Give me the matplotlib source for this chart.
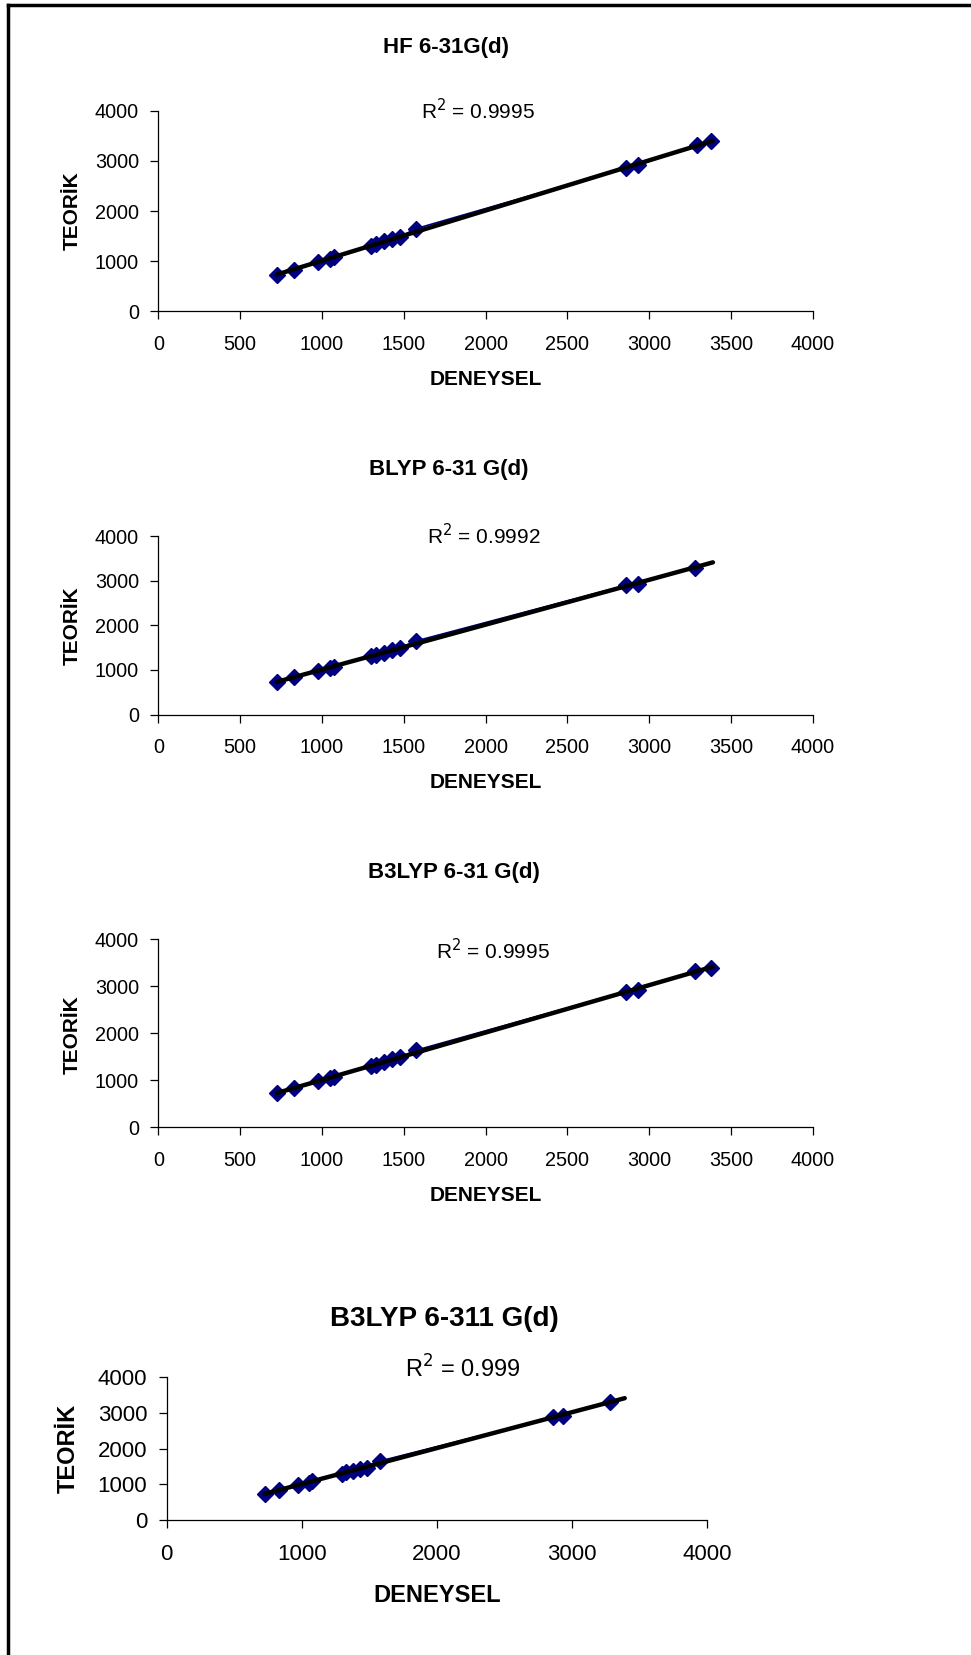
'''
Deneysel vs teorik frekans karsilastirmasi (4 yontem)
'''
import numpy as np
import matplotlib.pyplot as plt
from matplotlib.lines import Line2D

plt.rcParams['font.family'] = ['Liberation Sans', 'DejaVu Sans']

# deneysel frekanslar (x) ve teorik frekanslar (y), okunan degerler
x_hf = [725, 830, 975, 1050, 1075, 1300, 1330, 1380, 1430, 1480, 1575, 2860, 2930, 3290, 3380]
y_hf = [720, 830, 985, 1040, 1090, 1300, 1340, 1400, 1450, 1490, 1650, 2860, 2910, 3320, 3390]

x_blyp = [725, 830, 975, 1050, 1075, 1300, 1330, 1380, 1430, 1480, 1575, 2860, 2930, 3280]
y_blyp = [730, 840, 985, 1040, 1070, 1310, 1330, 1380, 1450, 1500, 1650, 2900, 2930, 3290]

x_b3 = [725, 830, 975, 1050, 1075, 1300, 1330, 1380, 1430, 1480, 1575, 2860, 2930, 3280, 3380]
y_b3 = [725, 835, 985, 1040, 1075, 1300, 1330, 1390, 1450, 1490, 1640, 2890, 2930, 3320, 3400]

x_b3311 = [725, 830, 975, 1050, 1075, 1300, 1330, 1380, 1430, 1480, 1575, 2860, 2930, 3280]
y_b3311 = [740, 830, 980, 1040, 1090, 1300, 1350, 1380, 1440, 1470, 1650, 2880, 2930, 3320]

titles = ["HF 6-31G(d)", "BLYP 6-31 G(d)", "B3LYP 6-31 G(d)", "B3LYP 6-311 G(d)"]
r2_labels = ["0.9995", "0.9992", "0.9995", "0.999"]
trend_end = [3390, 3390, 3390, 3390]
x_ticks_small = [0, 500, 1000, 1500, 2000, 2500, 3000, 3500, 4000]
x_ticks_big = [0, 1000, 2000, 3000, 4000]
y_ticks = [0, 1000, 2000, 3000, 4000]

W, H = 920.0, 1568.0  # layout measured on the shrunk reference

fig = plt.figure(figsize=(9.71, 16.55), dpi=100)

# (left, right, y_top, y_bottom, title xy, r2 xy, xlabel xy, ylabel xy, big?)
layout = [
    (150, 770, 105, 295, (423, 45), (453, 105), (460, 360), (68, 200), False),
    (150, 770, 508, 677, (425, 445), (458, 507), (460, 741), (68, 593), False),
    (150, 770, 890, 1068, (430, 827), (467, 901), (460, 1133), (68, 980), False),
    (158, 670, 1305, 1440, (421, 1250), (438, 1297), (414, 1512), (65, 1372), True),
]
data = [(x_hf, y_hf), (x_blyp, y_blyp), (x_b3, y_b3), (x_b3311, y_b3311)]

for i, (l, r, t, b, tpos, rpos, xlpos, ylpos, big) in enumerate(layout):
    xs, ys = data[i]
    ax = fig.add_axes([l / W, 1 - b / H, (r - l) / W, (b - t) / H])
    ax.plot(xs, ys, color='#000080', lw=1.2, marker='D', markersize=8.5,
            markerfacecolor='#000080', markeredgecolor='#000080', zorder=2)
    k, c = np.polyfit(xs, ys, 1)
    tx = np.array([min(xs), trend_end[i]])
    ax.plot(tx, k * tx + c, color='black', lw=3.2, solid_capstyle='round', zorder=3)

    ax.set_xlim(0, 4000)
    ax.set_ylim(0, 4000)
    ax.set_xticks(x_ticks_big if big else x_ticks_small)
    ax.set_yticks(y_ticks)
    for s in ['top', 'right']:
        ax.spines[s].set_visible(False)
    for s in ['left', 'bottom']:
        ax.spines[s].set_linewidth(0.9)
    fs = 16 if big else 14.3
    lfs = 17 if big else 15
    ax.tick_params(axis='x', direction='out', length=6, width=0.9, pad=11, labelsize=fs)
    ax.tick_params(axis='y', direction='out', length=6, width=0.9, pad=8, labelsize=fs)
    ax.set_xlabel("DENEYSEL", fontsize=lfs, fontweight='bold')
    ax.xaxis.set_label_coords(xlpos[0] / W, 1 - xlpos[1] / H, transform=fig.transFigure)
    ax.set_ylabel("TEORİK", fontsize=lfs, fontweight='bold')
    ax.yaxis.set_label_coords(ylpos[0] / W, 1 - ylpos[1] / H, transform=fig.transFigure)
    ax.xaxis.label.set_va('center')
    ax.yaxis.label.set_va('center')

    fig.text(tpos[0] / W, 1 - tpos[1] / H, titles[i], ha='center', va='center',
             fontsize=20 if big else 16, fontweight='bold')
    fig.text(rpos[0] / W, 1 - rpos[1] / H, "R$^2$ = " + r2_labels[i], ha='center',
             va='center', fontsize=lfs if not big else 17)

# kenarlik (sol ve ust)
fig.add_artist(Line2D([8 / 971, 8 / 971], [0, 1 - 5 / 1655], color='black', lw=2.5))
fig.add_artist(Line2D([8 / 971, 1], [1 - 5 / 1655, 1 - 5 / 1655], color='black', lw=2.5))

plt.savefig("out.png", dpi=100)
plt.close()
